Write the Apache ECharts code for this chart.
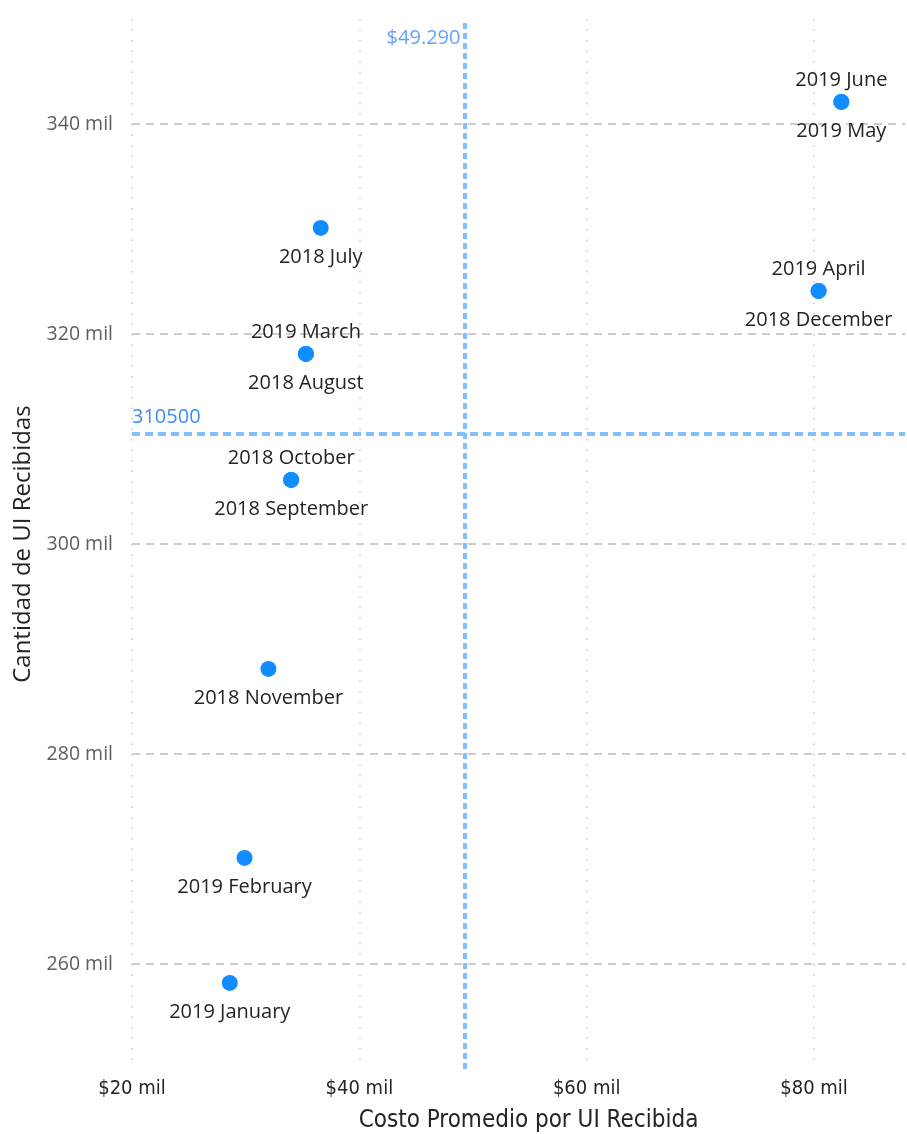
<!DOCTYPE html>
<html>
<head>
<meta charset="utf-8">
<script src="https://cdn.jsdelivr.net/npm/echarts@6/dist/echarts.min.js"></script>
<style>
  html, body { margin: 0; padding: 0; background: #fff; overflow: hidden; }
  #chart { width: 907px; height: 1134px; }
</style>
</head>
<body>
<div id="chart"></div>
<script>
// Month labels, cost per unit received (x) and units received (y)
const months = [
  '2019 June', '2019 May',
  '2018 July',
  '2019 April', '2018 December',
  '2019 March', '2018 August',
  '2018 October', '2018 September',
  '2018 November',
  '2019 February',
  '2019 January'
];
const costValues = [
  82400, 82400,
  36600,
  80400, 80400,
  35300, 35300,
  34000, 34000,
  32000,
  29900,
  28600
];
const unitValues = [
  342100, 342100,
  330100,
  324100, 324100,
  318100, 318100,
  306100, 306100,
  288100,
  270100,
  258200
];
// Where each label sits relative to its point (pairs share a point)
const labelSides = [
  'top', 'bottom',
  'bottom',
  'top', 'bottom',
  'top', 'bottom',
  'top', 'bottom',
  'bottom',
  'bottom',
  'bottom'
];

// Average reference lines
const avgCost = 49290;
const avgUnits = 310500;

// Axis ranges
const xMin = 20000, xMax = 88000, xStep = 20000;
const yMin = 250000, yMax = 350000, yStep = 10000;

const FONT = '"Segoe UI", "Open Sans", "Noto Sans", sans-serif';
const COND = '"DejaVu Sans Condensed", "Liberation Sans Narrow", "Roboto", sans-serif';
const DOT = '#118DFF';
const REF = '#80C0FF';
const REF_TEXT = '#3F8CF5';

const points = months.map((m, i) => ({
  name: m,
  value: [costValues[i], unitValues[i]],
  label: {
    position: labelSides[i],
    distance: labelSides[i] === 'top' ? 4 : 11
  }
}));

const chart = echarts.init(document.getElementById('chart'), null, { renderer: 'canvas' });

chart.setOption({
  animation: false,
  backgroundColor: '#ffffff',
  grid: { left: 132, right: 2, top: 19, bottom: 65, containLabel: false, outerBoundsMode: 'none' },
  xAxis: {
    type: 'value',
    min: xMin, max: xMax, interval: xStep,
    name: 'Costo Promedio por UI Recibida',
    nameLocation: 'middle',
    nameGap: 40,
    nameTextStyle: { fontFamily: COND, fontSize: 24, color: '#252423', padding: [0, 0, 0, 20] },
    axisLine: { show: false },
    axisTick: { show: false },
    axisLabel: {
      margin: 10,
      fontFamily: COND,
      fontSize: 20,
      color: '#252423',
      showMaxLabel: false,
      formatter: v => (v % xStep === 0 ? '$' + (v / 1000) + ' mil' : '')
    },
    splitLine: {
      show: true,
      lineStyle: { color: ['#c8c8c8', '#c8c8c8', '#c8c8c8', '#c8c8c8', 'rgba(0,0,0,0)'], width: 1.5, type: [1.5, 9] }
    }
  },
  yAxis: {
    type: 'value',
    min: yMin, max: yMax, interval: yStep,
    name: 'Cantidad de UI Recibidas',
    nameLocation: 'middle',
    nameGap: 97,
    nameRotate: 90,
    nameTextStyle: { fontFamily: FONT, fontSize: 24, color: '#252423' },
    axisLine: { show: false },
    axisTick: { show: false },
    axisLabel: {
      margin: 19,
      fontFamily: FONT,
      fontSize: 19.5,
      color: '#605E5C',
      formatter: v => (v % (2 * yStep) === 0 ? (v / 1000) + ' mil' : '')
    },
    splitLine: {
      show: true,
      lineStyle: { color: ['rgba(0,0,0,0)', '#cccccc'], width: 2, type: [8, 6] }
    }
  },
  series: [
    {
      type: 'scatter',
      symbol: 'circle',
      symbolSize: 16,
      itemStyle: { color: DOT, opacity: 1 },
      data: points,
      label: {
        show: true,
        formatter: p => p.name,
        fontFamily: FONT,
        fontSize: 20,
        color: '#252423'
      },
      markLine: {
        silent: true,
        symbol: 'none',
        animation: false,
        data: [
          {
            xAxis: avgCost,
            lineStyle: { color: REF, width: 4, type: [6, 4] },
            label: { show: false }
          },
          {
            yAxis: avgUnits,
            lineStyle: { color: REF, width: 4, type: [8, 5] },
            label: {
              show: true,
              position: 'insideStartTop',
              formatter: String(avgUnits),
              distance: [0, 6],
              padding: 0,
              fontFamily: FONT,
              fontSize: 20,
              color: REF_TEXT
            }
          }
        ]
      }
    },
    {
      // caption for the average-cost line, pinned to the top of the axis
      type: 'scatter',
      symbol: 'circle',
      symbolSize: 1,
      silent: true,
      clip: false,
      itemStyle: { color: 'rgba(0,0,0,0)' },
      data: [[avgCost, yMax]],
      label: {
        show: true,
        position: 'left',
        distance: 4,
        offset: [0, 19],
        formatter: '$' + (avgCost / 1000).toFixed(3),
        fontFamily: FONT,
        fontSize: 20,
        color: REF_TEXT
      }
    }
  ]
});
</script>
</body>
</html>
